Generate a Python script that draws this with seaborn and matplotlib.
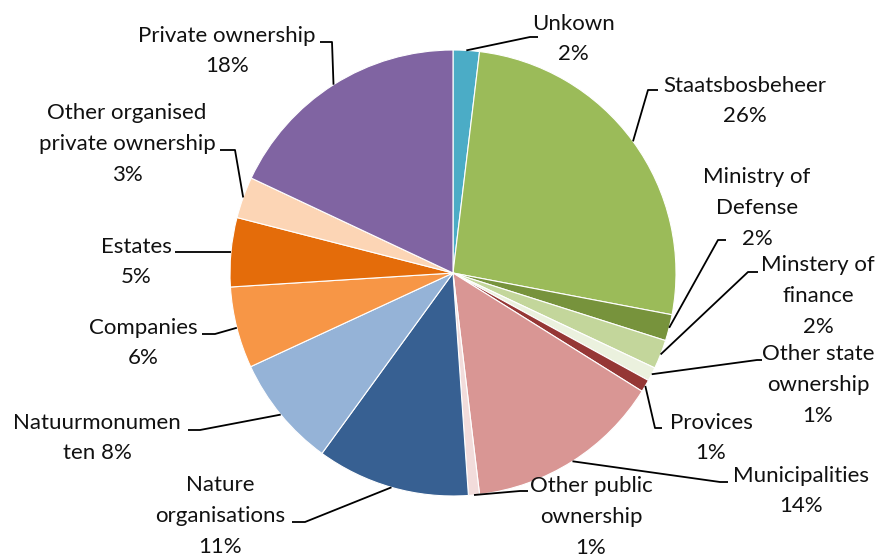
import numpy as np
import matplotlib
matplotlib.use("Agg")
import matplotlib.pyplot as plt
import seaborn as sns

# ---- data ----
categories = ["Unkown", "Staatsbosbeheer", "Ministry of\nDefense", "Minstery of\nfinance",
              "Other state\nownership", "Provices", "Municipalities", "Other public\nownership",
              "Nature\norganisations", "Natuurmonumen\nten", "Companies", "Estates",
              "Other organised\nprivate ownership", "Private ownership"]
shares = [1.9, 26.1, 1.9, 2.1, 1.0, 0.9, 14.2, 0.8, 11.1, 8.1, 5.9, 5.0, 3.0, 18.0]
colors = ["#4BACC6", "#9BBB59", "#77933C", "#C3D69B", "#EBF1DE", "#953735", "#D99694",
          "#F2DCDB", "#376092", "#95B3D7", "#F79646", "#E46C0A", "#FCD5B5", "#8064A2"]
pct_sep = ["\n", "\n", "\n", "\n", "\n", "\n", "\n", "\n", "\n", " ", "\n", "\n", "\n", "\n"]

# ---- layout (pixel coords, y down) ----
text_pos = [(573, 39), (745, 101), (757, 208), (818, 296), (818, 385), (711, 438),
            (801, 491), (591, 517), (220, 516), (97, 438), (143, 343), (136, 262),
            (127, 144), (227, 51)]
elbows = [[(530, 37), (538, 37)], [(648, 90), (658, 90)], [(718, 240), (726, 240)],
          [(748, 272), (758, 272)], [(757, 360), (762, 360)], [(655, 428), (662, 428)],
          [(720, 482), (728, 482)], [(520, 491), (528, 491)], [(305, 522), (292, 522)],
          [(200, 430), (188, 430)], [(215, 334), (202, 334)], [(200, 252), (175, 252)],
          [(235, 150), (220, 150)], [(332, 42), (320, 42)]]

W, H = 880, 557
CX, CY, R = 453, 273, 223

sns.set_theme(style="white")
plt.rcParams['font.family'] = ['Lato', 'DejaVu Sans']

def P(x, y):
    return (x, H - y)

fig = plt.figure(figsize=(W / 100, H / 100), dpi=100)
ax = fig.add_axes([0, 0, 1, 1])

wedges, _ = ax.pie(shares, colors=colors, startangle=90, counterclock=False,
                   center=P(CX, CY), radius=R,
                   wedgeprops=dict(edgecolor="white", linewidth=0.8))
ax.set_xlim(0, W)
ax.set_ylim(0, H)
ax.set_aspect("equal")
ax.axis("off")

total = sum(shares)
for w, cat, v, sep, tp, el in zip(wedges, categories, shares, pct_sep, text_pos, elbows):
    mid = np.deg2rad((w.theta1 + w.theta2) / 2)
    ex = CX + R * np.cos(mid)
    ey = CY - R * np.sin(mid)
    pts = [(ex, ey)] + el
    xs = [p[0] for p in pts]
    ys = [H - p[1] for p in pts]
    ax.plot(xs, ys, color="black", lw=1.3, solid_capstyle="butt")
    label = f"{cat}{sep}{round(v / total * 100):.0f}%"
    ax.text(*P(*tp), label, ha="center", va="center", fontsize=16,
            linespacing=1.68, color="#111111")

fig.savefig("out.png", dpi=100)
